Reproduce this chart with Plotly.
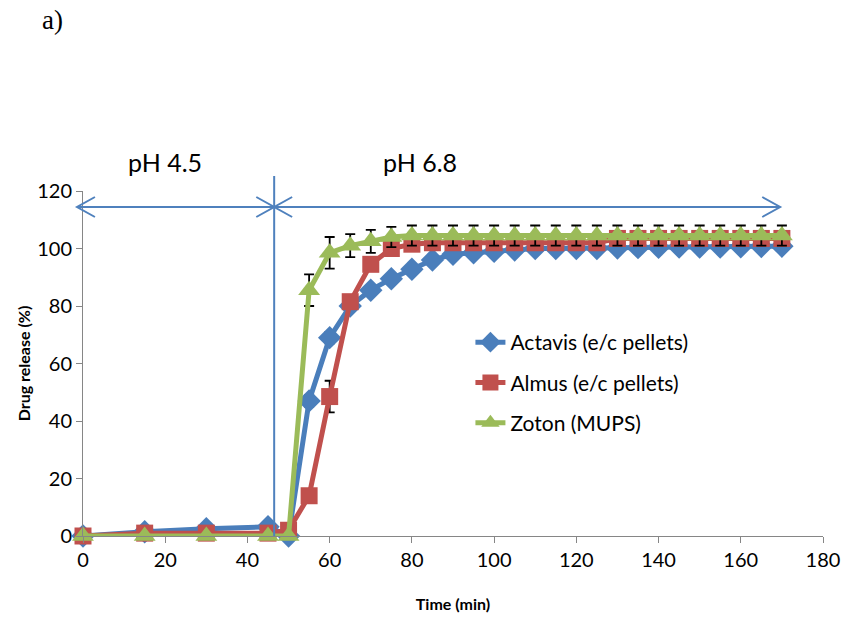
import plotly.graph_objects as go

time = [0, 15, 30, 45, 50, 55, 60, 65, 70, 75, 80, 85, 90, 95, 100, 105, 110, 115,
        120, 125, 130, 135, 140, 145, 150, 155, 160, 165, 170]

actavis = [0, 1.5, 2.5, 3.2, 0, 47, 69, 80, 85.5, 89.5, 92.8, 96, 98, 98.5, 99, 99.5,
           100, 100, 100, 100, 100.2, 100.3, 100.4, 100.5, 100.5, 100.5, 100.6, 100.7, 100.8]
actavis_err = [0, 0.5, 0.5, 0.5, 0.5, 2, 2, 1.5, 1.5, 1, 1, 1, 1, 1, 1, 1, 1, 1, 1, 1,
               1, 1, 1, 1, 1, 1, 1, 1, 1]

almus = [0, 1, 1, 1, 2, 14, 48.5, 81.5, 94.5, 100, 101.5, 102, 102, 102, 102, 102,
         102, 102, 102, 102, 103.5, 103.5, 103.5, 103.5, 103.5, 103.5, 103.5, 103.5, 103.5]
almus_err = [0, 0.5, 0.5, 0.5, 0.5, 1.5, 5.5, 2, 2, 1.5, 1.5, 1.5, 1.5, 1.5, 1.5, 1.5,
             1.5, 1.5, 1.5, 1.5, 1.5, 1.5, 1.5, 1.5, 1.5, 1.5, 1.5, 1.5, 1.5]

zoton = [0, 0, 0, 0, 0, 85.5, 98.5, 101, 102.5, 104, 104.5, 104.5, 104.5, 104.5, 104.5,
         104.5, 104.5, 104.5, 104.5, 104.5, 104.5, 104.5, 104.5, 104.5, 104.5, 104.5,
         104.5, 104.5, 104.5]
zoton_err = [0, 0, 0, 0, 0, 5.5, 5.5, 4, 4, 3.5, 3.5, 3.5, 3.5, 3.5, 3.5, 3.5, 3.5, 3.5,
             3.5, 3.5, 3.5, 3.5, 3.5, 3.5, 3.5, 3.5, 3.5, 3.5, 3.5]

x_ticks = [0, 20, 40, 60, 80, 100, 120, 140, 160, 180]
y_ticks = [0, 20, 40, 60, 80, 100, 120]

FONT = "Lato"
BLUE = "#4a7ebb"
RED = "#c0504d"
GREEN = "#9bbb59"
ARROW = "#4f81bd"

fig = go.Figure()

series = [
    ("Actavis (e/c pellets)", actavis, actavis_err, BLUE, "diamond", 18),
    ("Almus (e/c pellets)", almus, almus_err, RED, "square", 17),
    ("Zoton (MUPS)", zoton, zoton_err, GREEN, "triangle-up", 19),
]
for i, (name, vals, err, col, sym, sz) in enumerate(series):
    fig.add_trace(go.Scatter(
        x=time, y=vals, name=name, mode="lines+markers",
        line=dict(color=col, width=5),
        marker=dict(symbol=sym, size=sz, color=col, line=dict(width=0)),
        error_y=dict(type="data", array=err, visible=True, color="black",
                     thickness=1.8, width=5),
        legendgroup=f"g{i}", cliponaxis=False,
    ))

# plot area in pixels: x 83..826, y 191..536
L, R, T, B = 83, 826, 191, 536
W, H = 852, 623


def px(xp):
    return (xp - L) / (R - L)


def py(yp):
    return (B - yp) / (B - T)


shapes = []
line_style = dict(color=ARROW, width=2)
# vertical separator at ~46.5 min
shapes.append(dict(type="line", xref="x", yref="paper", x0=46.5, x1=46.5,
                   y0=0, y1=py(176), line=line_style))
# horizontal arrows
ya = 114.4
shapes.append(dict(type="line", xref="paper", yref="y", x0=px(77), x1=px(275),
                   y0=ya, y1=ya, line=line_style))
shapes.append(dict(type="line", xref="paper", yref="y", x0=px(275), x1=px(783),
                   y0=ya, y1=ya, line=line_style))


def chevron(tip_x, direction):
    dx = 18 * direction
    return dict(type="path", xref="paper", yref="paper",
                path=(f"M {px(tip_x + dx)},{py(207 - 10)} L {px(tip_x)},{py(207)} "
                      f"L {px(tip_x + dx)},{py(207 + 10)}"),
                line=line_style)


shapes.append(chevron(77, 1))
shapes.append(chevron(275, -1))
shapes.append(chevron(275, 1))
shapes.append(chevron(783, -1))

annotations = [
    dict(text="pH 4.5", xref="paper", yref="paper", x=px(165), y=py(162),
         xanchor="center", yanchor="middle",
         showarrow=False, font=dict(family=FONT, size=25, color="black")),
    dict(text="pH 6.8", xref="paper", yref="paper", x=px(421), y=py(162),
         xanchor="center", yanchor="middle",
         showarrow=False, font=dict(family=FONT, size=25, color="black")),
    dict(text="a)", xref="paper", yref="paper", x=px(52), y=py(20),
         xanchor="center", yanchor="middle",
         showarrow=False, font=dict(family="Liberation Serif", size=27, color="black")),
]

fig.update_layout(
    width=W, height=H,
    margin=dict(l=L, r=W - R, t=T, b=H - B),
    paper_bgcolor="white", plot_bgcolor="white",
    font=dict(family=FONT, size=20, color="black"),
    shapes=shapes, annotations=annotations,
    showlegend=True,
    legend=dict(x=px(472), y=py(322), xanchor="left", yanchor="top",
                font=dict(family=FONT, size=21, color="black"),
                bgcolor="rgba(0,0,0,0)", traceorder="grouped",
                tracegroupgap=10),
    xaxis=dict(range=[0, 180], tickvals=x_ticks, showgrid=False, zeroline=False,
               showline=True, linecolor="#868686", linewidth=1,
               ticks="outside", ticklen=6, tickcolor="#868686",
               tickfont=dict(family=FONT, size=20),
               title=dict(text="<b>Time (min)</b>", font=dict(family=FONT, size=16),
                          standoff=28)),
    yaxis=dict(range=[0, 120], tickvals=y_ticks, showgrid=False, zeroline=False,
               showline=True, linecolor="#868686", linewidth=1,
               ticks="outside", ticklen=6, tickcolor="#868686",
               tickfont=dict(family=FONT, size=20),
               title=dict(text="<b>Drug release (%)</b>", font=dict(family=FONT, size=16),
                          standoff=2)),
)

fig.write_html("out.html")
